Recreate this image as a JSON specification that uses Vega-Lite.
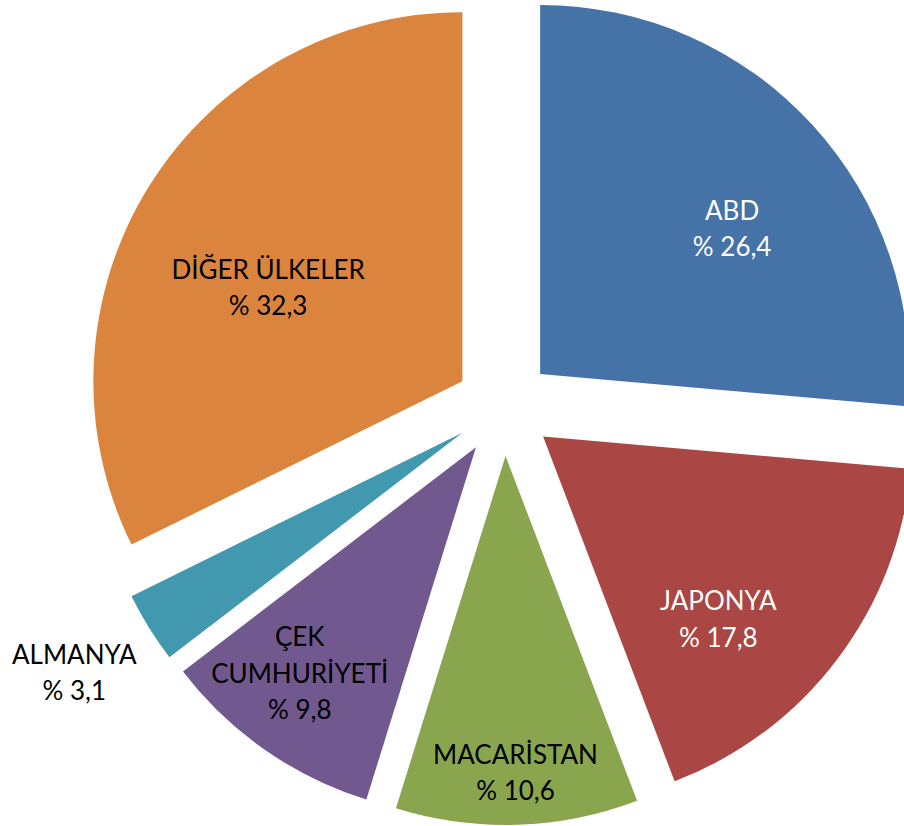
{
  "$schema": "https://vega.github.io/schema/vega-lite/v6.json",
  "width": 904,
  "height": 826,
  "padding": 0,
  "autosize": "none",
  "background": "white",
  "config": {"view": {"stroke": null}},
  "params": [
    {"name": "cx", "value": 504},
    {"name": "cy", "value": 407},
    {"name": "ex", "value": 49}
  ],
  "data": {
    "values": [
      {"country": "ABD", "pct": 26.4, "label": "ABD\n% 26,4"},
      {"country": "JAPONYA", "pct": 17.8, "label": "JAPONYA\n% 17,8"},
      {"country": "MACARİSTAN", "pct": 10.6, "label": "MACARİSTAN\n% 10,6"},
      {"country": "ÇEK CUMHURİYETİ", "pct": 9.8, "label": "ÇEK\nCUMHURİYETİ\n% 9,8"},
      {"country": "ALMANYA", "pct": 3.1, "label": "ALMANYA\n% 3,1"},
      {"country": "DİĞER ÜLKELER", "pct": 32.3, "label": "DİĞER ÜLKELER\n% 32,3"}
    ]
  },
  "transform": [
    {"window": [{"op": "sum", "field": "pct", "as": "cum"}], "frame": [null, 0]}
  ],
  "layer": [
    {
      "mark": {
        "type": "arc",
        "radius": 369,
        "clip": true,
        "x": {"expr": "cx + ex*sin((datum.cum - datum.pct/2)*PI/50)"},
        "y": {"expr": "cy - ex*cos((datum.cum - datum.pct/2)*PI/50)"}
      },
      "encoding": {
        "theta": {"field": "pct", "type": "quantitative", "stack": true, "scale": {"domain": [0, 100]}},
        "order": {"field": "cum", "type": "quantitative"},
        "color": {
          "field": "country",
          "type": "nominal",
          "scale": {
            "domain": ["ABD", "JAPONYA", "MACARİSTAN", "ÇEK CUMHURİYETİ", "ALMANYA", "DİĞER ÜLKELER"],
            "range": ["#4572A7", "#AA4643", "#89A54E", "#71588F", "#4198AF", "#DB843D"]
          },
          "legend": null
        }
      }
    },
    {
      "mark": {
        "type": "text",
        "font": "Lato",
        "fontSize": 26,
        "lineBreak": "\n",
        "lineHeight": 36.5,
        "align": "center",
        "baseline": "middle",
        "fill": {"expr": "datum.country == 'ABD' || datum.country == 'JAPONYA' ? '#ffffff' : '#000000'"},
        "x": {"expr": "cx + ex*sin((datum.cum - datum.pct/2)*PI/50) + (datum.country=='ABD'?240:datum.country=='JAPONYA'?254:datum.country=='MACARİSTAN'?318:datum.country=='ÇEK CUMHURİYETİ'?288:datum.country=='ALMANYA'?457:215) * sin((datum.cum - datum.pct/2)*PI/50 + (datum.country=='ABD'?5.6:datum.country=='JAPONYA'?9.3:datum.country=='ÇEK CUMHURİYETİ'?2.8:datum.country=='DİĞER ÜLKELER'?-6.5:0)*PI/180)"},
        "y": {"expr": "cy - ex*cos((datum.cum - datum.pct/2)*PI/50) - (datum.country=='ABD'?240:datum.country=='JAPONYA'?254:datum.country=='MACARİSTAN'?318:datum.country=='ÇEK CUMHURİYETİ'?288:datum.country=='ALMANYA'?457:215) * cos((datum.cum - datum.pct/2)*PI/50 + (datum.country=='ABD'?5.6:datum.country=='JAPONYA'?9.3:datum.country=='ÇEK CUMHURİYETİ'?2.8:datum.country=='DİĞER ÜLKELER'?-6.5:0)*PI/180) - (datum.country=='ÇEK CUMHURİYETİ' ? 36.5 : 18.25)"}
      },
      "encoding": {
        "text": {"field": "label", "type": "nominal"}
      }
    }
  ]
}
